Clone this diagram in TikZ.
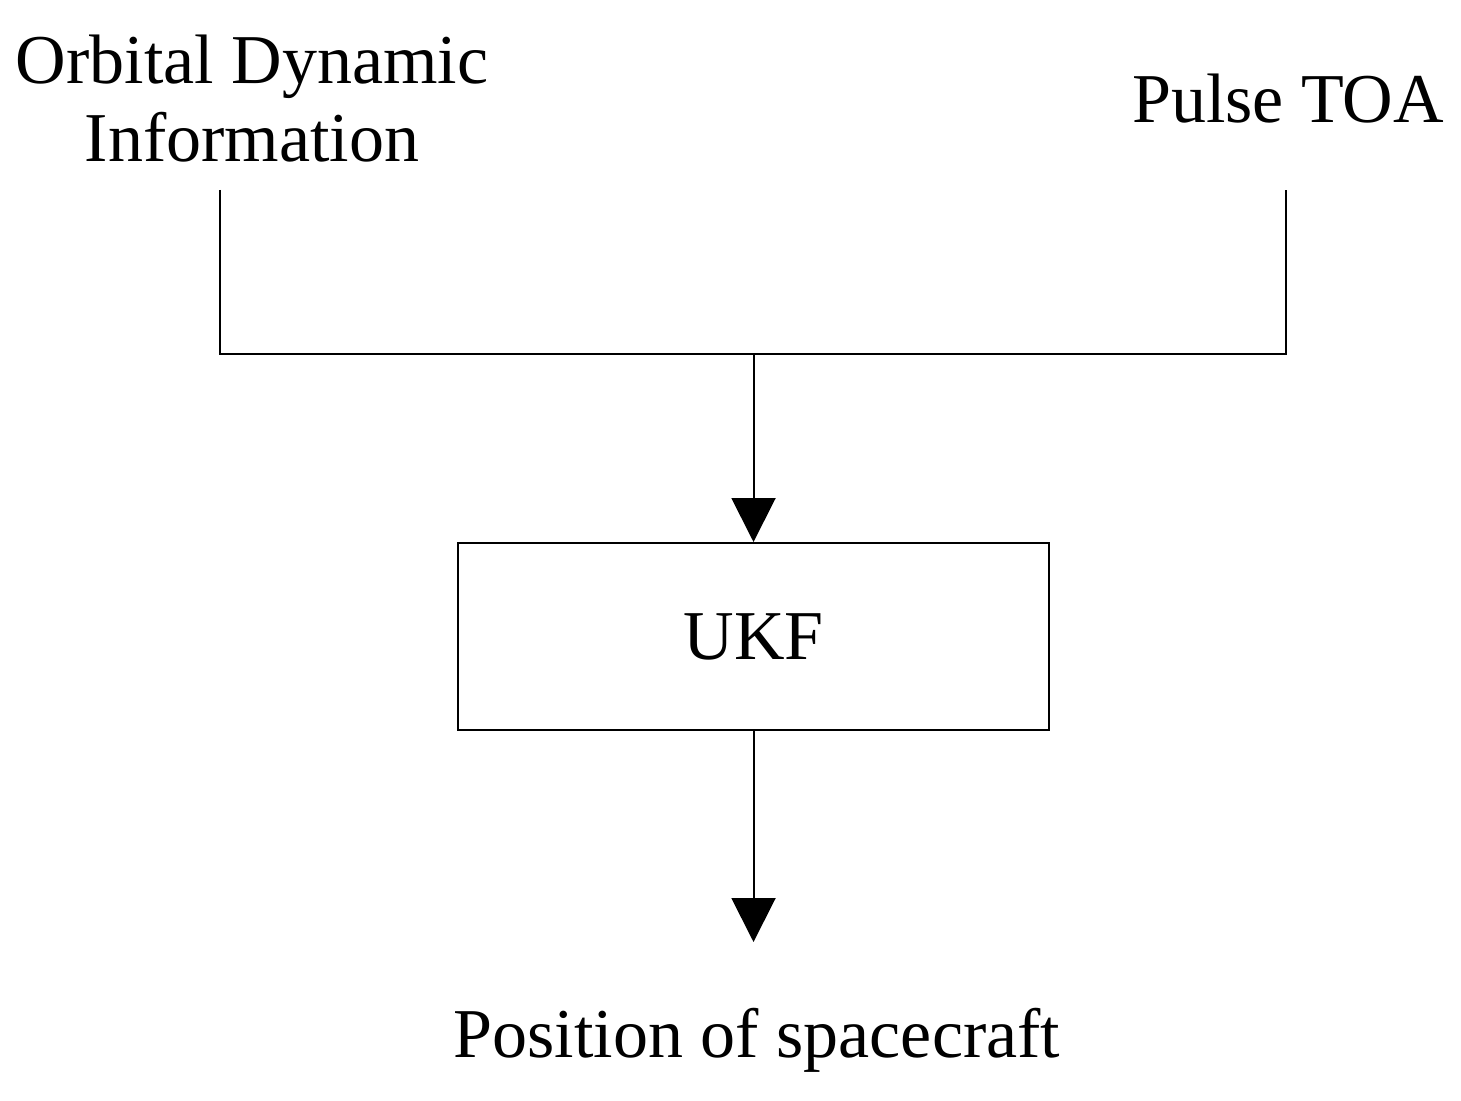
\documentclass[tikz,border=0pt]{standalone}
\usepackage{fontspec}
\setmainfont{Liberation Serif}
\usetikzlibrary{arrows.meta}
\begin{document}
\begin{tikzpicture}[x=0.5pt,y=-0.5pt,
  lbl/.style={font=\fontsize{35}{39}\selectfont, align=center, inner sep=0pt},
  conn/.style={line width=1pt},
  arr/.style={conn, -{Triangle[width=22pt,length=22pt]}}]
\useasboundingbox (0,0) rectangle (1461,1101);
\node[lbl] (orb) at (252,99) {Orbital Dynamic\\Information};
\node[lbl] (toa) at (1288,99) {Pulse TOA};
\node[lbl, draw, line width=1pt, minimum width=295.5pt, minimum height=93.5pt] (ukf) at (753.5,636.5) {UKF};
\node[lbl] (pos) at (757,1040) {Position of spacecraft};
\coordinate (l) at (220,190);
\coordinate (r) at (1286,190);
\coordinate (m) at (753.5,354);
\coordinate (o) at (753.5,942);
\draw[conn] (l) |- (m) -| (r);
\draw[arr] (m) -- (ukf.north);
\draw[arr] (ukf.south) -- (o);
\end{tikzpicture}
\end{document}
